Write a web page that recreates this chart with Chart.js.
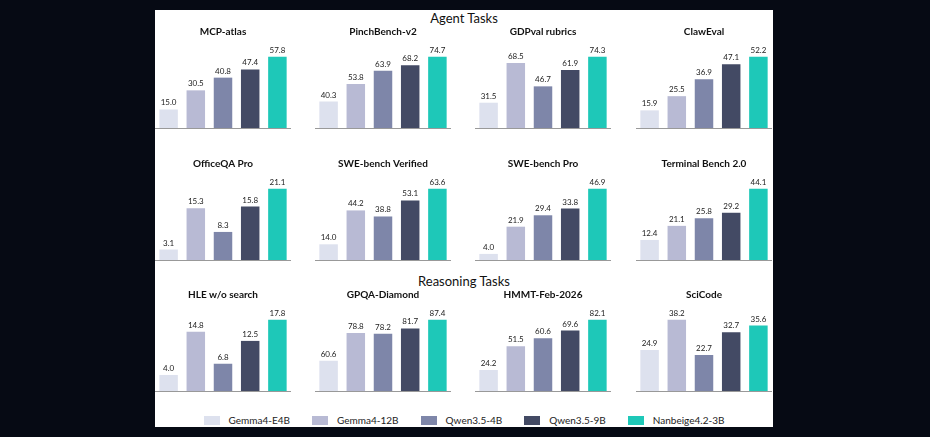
<!DOCTYPE html>
<html><head><meta charset="utf-8">
<script src="https://cdn.jsdelivr.net/npm/chart.js@4"></script>
<style>
body{margin:0;background:#060a14;width:930px;height:437px;overflow:hidden;font-family:Lato,sans-serif}
#panel{position:absolute;left:155px;top:10px;width:618px;height:417px;background:#fff}
.box{position:absolute;width:136px;height:110px}
.sec{position:absolute;width:618px;text-align:center;font-size:13px;color:#111}
#legend{position:absolute;top:404px;left:0;width:618px;display:flex;justify-content:center;gap:22px;font-size:10px;color:#222}
#legend span{display:flex;align-items:center}
#legend i{display:inline-block;width:16px;height:9px;margin-right:9px}
</style></head><body>
<div id="panel">
<div class="sec" style="top:0px">Agent Tasks</div>
<div class="sec" style="top:263px">Reasoning Tasks</div>
<div id="legend"></div>
</div>
<script>
const models = ['Gemma4-E4B', 'Gemma4-12B', 'Qwen3.5-4B', 'Qwen3.5-9B', 'Nanbeige4.2-3B'];
const colors = ['#dde1ee', '#b8bad4', '#7e86a9', '#434a64', '#1ec8b8'];
const benchmarks = ['MCP-atlas', 'PinchBench-v2', 'GDPval rubrics', 'ClawEval',
  'OfficeQA Pro', 'SWE-bench Verified', 'SWE-bench Pro', 'Terminal Bench 2.0',
  'HLE w/o search', 'GPQA-Diamond', 'HMMT-Feb-2026', 'SciCode'];
const scores = [
  [15.0, 30.5, 40.8, 47.4, 57.8],
  [40.3, 53.8, 63.9, 68.2, 74.7],
  [31.5, 68.5, 46.7, 61.9, 74.3],
  [15.9, 25.5, 36.9, 47.1, 52.2],
  [3.1, 15.3, 8.3, 15.8, 21.1],
  [14.0, 44.2, 38.8, 53.1, 63.6],
  [4.0, 21.9, 29.4, 33.8, 46.9],
  [12.4, 21.1, 25.8, 29.2, 44.1],
  [4.0, 14.8, 6.8, 12.5, 17.8],
  [60.6, 78.8, 78.2, 81.7, 87.4],
  [24.2, 51.5, 60.6, 69.6, 82.1],
  [24.9, 38.2, 22.7, 32.7, 35.6]
];
const axisMin = [0, 20, 8, 4, 0, 0, 0, 0, 0, 41, 0, 7];

const panel = document.getElementById('panel');
const leg = document.getElementById('legend');
models.forEach((m, i) => {
  leg.innerHTML += `<span><i style="background:${colors[i]}"></i>${m}</span>`;
});

const labelPlugin = {
  id: 'vals',
  afterDatasetsDraw(chart) {
    const ctx = chart.ctx;
    ctx.save();
    ctx.font = '8px Lato';
    ctx.fillStyle = '#222';
    ctx.textAlign = 'center';
    chart.getDatasetMeta(0).data.forEach((bar, i) => {
      ctx.fillText(chart.data.datasets[0].data[i].toFixed(1), bar.x, bar.y - 4);
    });
    ctx.restore();
  }
};

const colLeft = [0, 160, 320, 481];
const rowTop = [16, 148, 279];
benchmarks.forEach((name, k) => {
  const div = document.createElement('div');
  div.className = 'box';
  div.style.left = colLeft[k % 4] + 'px';
  div.style.top = rowTop[Math.floor(k / 4)] + 'px';
  const cv = document.createElement('canvas');
  div.appendChild(cv);
  panel.appendChild(div);
  const mx = Math.max(...scores[k]);
  new Chart(cv, {
    type: 'bar',
    data: { labels: models, datasets: [{ data: scores[k], backgroundColor: colors, barPercentage: 0.68, categoryPercentage: 1 }] },
    options: {
      responsive: true, maintainAspectRatio: false, animation: false,
      layout: { padding: 0 },
      plugins: {
        legend: { display: false }, tooltip: { enabled: false },
        title: { display: true, text: name, color: '#111', font: { size: 10, family: 'Lato' }, padding: { top: 0, bottom: 8 } }
      },
      scales: {
        x: { ticks: { display: false }, grid: { display: false }, border: { color: '#999' } },
        y: { display: false, min: axisMin[k], max: axisMin[k] + (mx - axisMin[k]) / 0.87 }
      }
    },
    plugins: [labelPlugin]
  });
});
</script>
</body></html>
